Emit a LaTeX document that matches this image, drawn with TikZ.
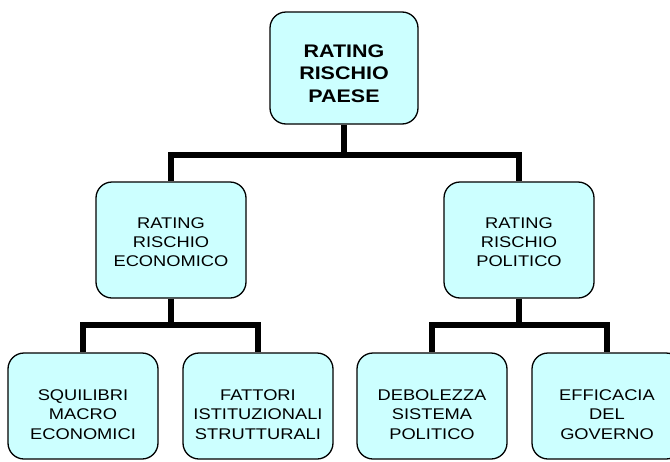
\documentclass[tikz,border=0pt]{standalone}
\usepackage{fontspec}
\setmainfont[FakeStretch=1.18]{Liberation Sans}
\definecolor{boxfill}{HTML}{CCFFFF}
\newcommand\lft[1]{\rule{0pt}{#1}}

\begin{document}
\begin{tikzpicture}[
  x=1pt, y=-1pt,
  box/.style={
    draw, fill=boxfill, rounded corners=16pt,
    line width=1.3pt, align=center, inner sep=0pt,
    minimum width=150pt, minimum height=106pt,
    font=\fontsize{15.5}{19.3}\selectfont
  },
  link/.style={line width=6pt}
]
  \useasboundingbox (0,0) rectangle (670,461);
  \clip (0,0) rectangle (670,461);
  % livelli
  \node[box, minimum width=148pt, minimum height=112pt,
    font=\bfseries\fontsize{18.2}{22.3}\selectfont] (paese) at (344,68)
    {\lft{24pt}RATING\\RISCHIO\\PAESE};
  \node[box, minimum height=116pt] (eco) at (171,240)
    {\lft{15pt}RATING\\RISCHIO\\ECONOMICO};
  \node[box, minimum height=116pt] (pol) at (519,240)
    {\lft{15pt}RATING\\RISCHIO\\POLITICO};
  \foreach \x/\nm/\txt in {83/squil/{SQUILIBRI\\MACRO\\ECONOMICI},
      258/fatt/{FATTORI\\ISTITUZIONALI\\STRUTTURALI},
      432/deb/{DEBOLEZZA\\SISTEMA\\POLITICO},
      607/eff/{EFFICACIA\\DEL\\GOVERNO}} {
    \node[box] (\nm) at (\x,406) {\lft{28pt}\txt};
  }
  % collegamenti
  \coordinate (j0) at (344,155);
  \coordinate (j1) at (171,325);
  \coordinate (j2) at (519,325);
  \draw[link] (paese.south) -- (j0) -| (eco.north);
  \draw[link] (j0) -| (pol.north);
  \draw[link] (eco.south) -- (j1) -| (squil.north);
  \draw[link] (j1) -| (fatt.north);
  \draw[link] (pol.south) -- (j2) -| (deb.north);
  \draw[link] (j2) -| (eff.north);
\end{tikzpicture}
\end{document}
